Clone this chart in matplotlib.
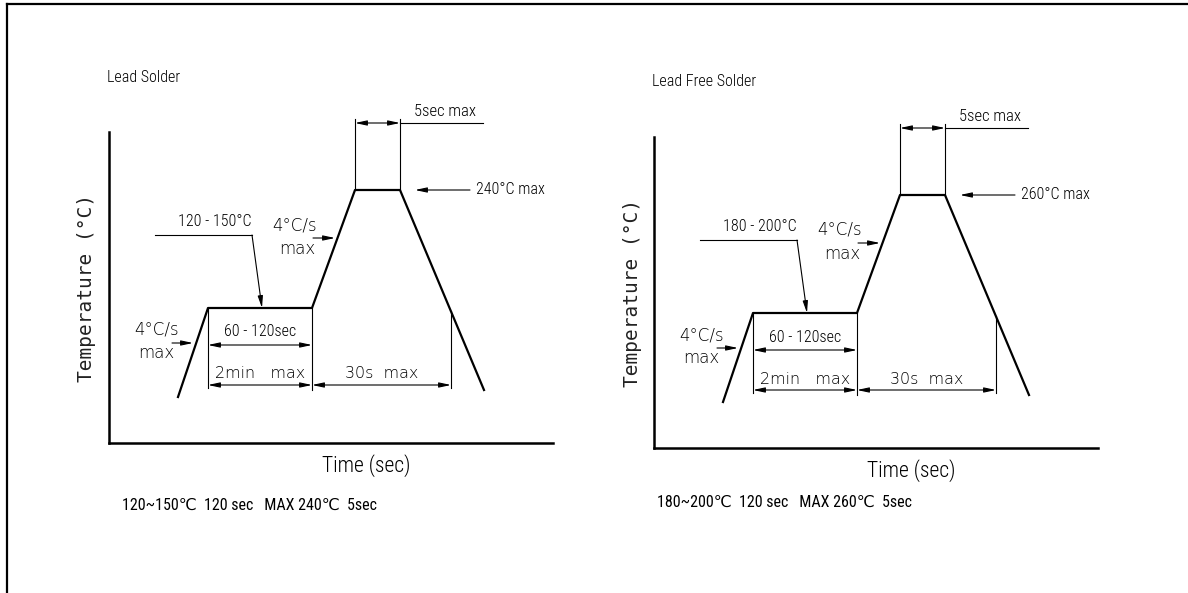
import numpy as np
import matplotlib
matplotlib.use("Agg")
import matplotlib.pyplot as plt
from matplotlib.lines import Line2D
from matplotlib import font_manager as fm

# panel texts
panel_titles = ["Lead Solder", "Lead Free Solder"]
soak_labels = ["120 - 150°C", "180 - 200°C"]
peak_labels = ["240°C max", "260°C max"]
summary_labels = ["120~150℃  120 sec   MAX 240℃  5sec",
                  "180~200℃  120 sec   MAX 260℃  5sec"]

# schematic reflow profile (not to scale): time units / temperature units
profile_time = [69, 99, 203, 246, 291, 375]
profile_temp = [46, 135, 135, 253, 253, 53]
cool_mark_time = 342  # end of the "30s max" span on the cooling slope

W, H = 1188, 593
AX_W, AX_H = 444, 311
origins = [(109, 443), (654, 448)]      # pixel position of axis corner
summary_pos = [(122, 505), (657, 502)]

# pick a narrow face if one is installed
names = {f.name for f in fm.fontManager.ttflist}
dv_cond = [f for f in fm.fontManager.ttflist
           if f.name == "DejaVu Sans" and "condensed" in str(f.stretch)]
if "Liberation Sans Narrow" in names:
    NARROW = dict(family=["Liberation Sans Narrow", "DejaVu Sans"])
elif "Roboto Condensed" in names:
    NARROW = dict(family=["Roboto Condensed", "DejaVu Sans"])
elif dv_cond:
    NARROW = dict(family=["DejaVu Sans"], stretch="condensed")
else:
    NARROW = dict(family=["Liberation Sans", "DejaVu Sans"])
THIN = dict(NARROW, weight="light")
WIDE = dict(family=["DejaVu Sans"], weight="light")


def arrow(ax, x0, y0, x1, y1, both=False):
    style = "<|-|>" if both else "-|>"
    ax.annotate("", xy=(x1, y1), xytext=(x0, y0), annotation_clip=False,
                arrowprops=dict(arrowstyle=style + ",head_length=0.7,head_width=0.15",
                                color="black", lw=0.8, shrinkA=0, shrinkB=0,
                                mutation_scale=10))


def thin(ax, xs, ys):
    ax.plot(xs, ys, color="black", lw=0.8, clip_on=False)


fig = plt.figure(figsize=(W / 100, H / 100), dpi=100)

for i in range(2):
    ox, oy = origins[i]
    ax = fig.add_axes([ox / W, (H - oy) / H, AX_W / W, AX_H / H])
    ax.set_xlim(0, AX_W)
    ax.set_ylim(0, AX_H)
    ax.set_xticks([])
    ax.set_yticks([])
    ax.patch.set_visible(False)
    for s in ["top", "right"]:
        ax.spines[s].set_visible(False)
    for s in ["left", "bottom"]:
        ax.spines[s].set_linewidth(1.8)

    t = profile_time
    T = profile_temp
    ax.plot(t, T, color="black", lw=1.6, clip_on=False)

    # soak / reflow spans
    cool_T = np.interp(cool_mark_time, [t[4], t[5]], [T[4], T[5]])
    thin(ax, [t[1], t[1]], [T[1], 55])
    thin(ax, [t[2], t[2]], [T[2], 53])
    thin(ax, [cool_mark_time, cool_mark_time], [cool_T, 55])
    arrow(ax, t[1], 98, t[2], 98, both=True)
    arrow(ax, t[1], 58, t[2], 58, both=True)
    arrow(ax, t[2], 58, cool_mark_time, 58, both=True)
    ax.text((t[1] + t[2]) / 2, 111, "60 - 120sec", ha="center", va="center",
            fontsize=11.5, **THIN)
    ax.text((t[1] + t[2]) / 2, 69, "2min   max", ha="center", va="center",
            fontsize=11.5, **WIDE)
    ax.text((t[2] + cool_mark_time) / 2, 69, "30s  max", ha="center", va="center",
            fontsize=11.5, **WIDE)

    # peak
    thin(ax, [t[3], t[3]], [T[3], 324])
    thin(ax, [t[4], t[4]], [T[4], 324])
    arrow(ax, t[3], 320, t[4], 320, both=True)
    thin(ax, [t[4], 374], [320, 320])
    ax.text(336, 331, "5sec max", ha="center", va="center", fontsize=12, **THIN)
    arrow(ax, 361, T[3], 306, T[3])
    ax.text(367, T[3], peak_labels[i], ha="left", va="center", fontsize=11.5, **THIN)

    # soak temperature leader
    thin(ax, [46, 143], [208, 208])
    arrow(ax, 143, 208, 153, T[1])
    ax.text(106, 221, soak_labels[i], ha="center", va="center", fontsize=11.5, **THIN)

    # ramp rates
    ax.text(186, 218, "4°C/s", ha="center", va="center", fontsize=12, **WIDE)
    ax.text(188, 194, "max", ha="center", va="center", fontsize=12, **WIDE)
    arrow(ax, 204, 205, 226, 205)
    ax.text(48, 113, "4°C/s", ha="center", va="center", fontsize=12, **WIDE)
    ax.text(47, 90, "max", ha="center", va="center", fontsize=12, **WIDE)
    arrow(ax, 63, 100, 84, 100)

    # titles and axis labels
    ax.text(-2, 366, panel_titles[i], ha="left", va="center", fontsize=11.5, **THIN)
    ax.text(257, -23, "Time (sec)", ha="center", va="center", fontsize=15.5, **THIN)
    ax.text(-22, 155, "Temperature (°C)", rotation=90, ha="center", va="center",
            fontsize=14, family="DejaVu Sans Mono", color="#222222")

    sx, sy = summary_pos[i]
    fig.text(sx / W, 1 - sy / H, summary_labels[i], ha="left", va="center",
             fontsize=11.5, **NARROW)

# page frame
fig.add_artist(Line2D([7 / W, 1], [1 - 4 / H, 1 - 4 / H], transform=fig.transFigure,
                      color="black", lw=1.6))
fig.add_artist(Line2D([7 / W, 7 / W], [0, 1 - 4 / H], transform=fig.transFigure,
                      color="black", lw=1.6))

fig.savefig("out.png", dpi=100)
